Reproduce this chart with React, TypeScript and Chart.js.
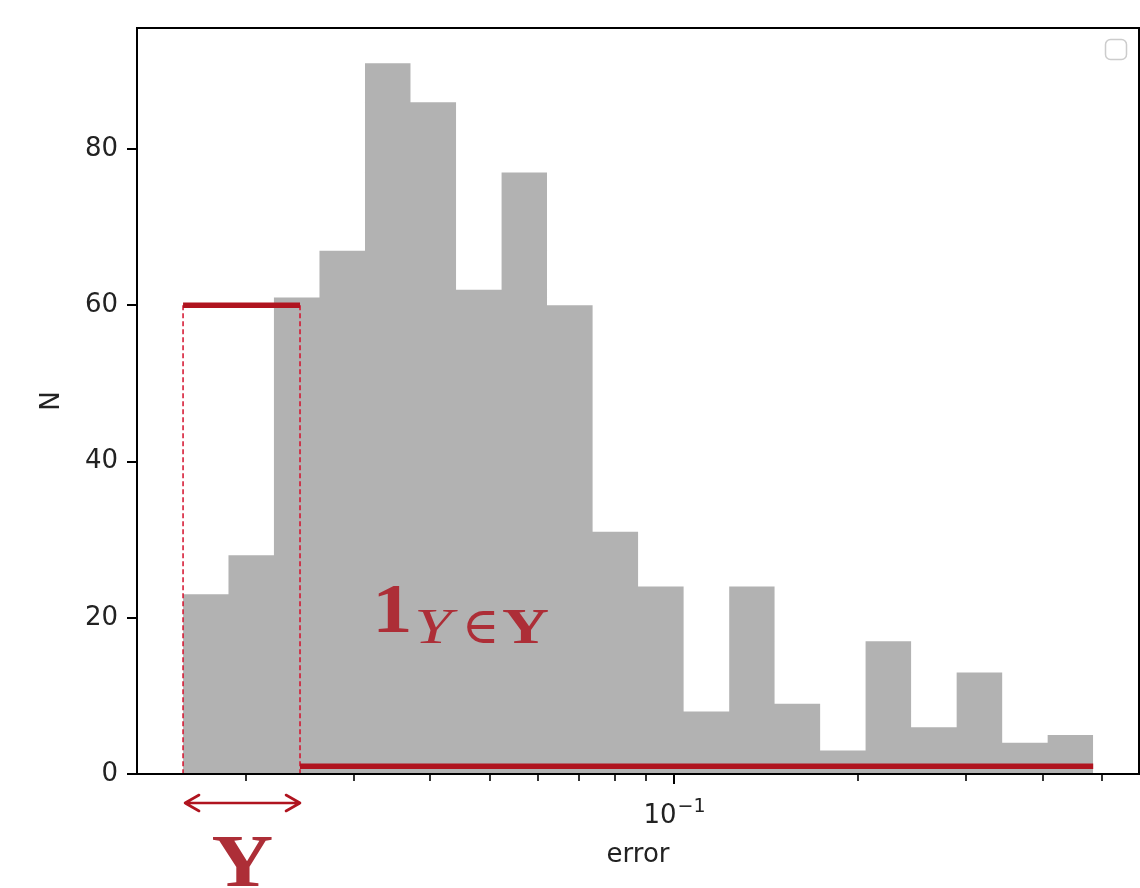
import React, { useEffect, useRef } from 'react';
import { Chart, registerables } from 'chart.js';

Chart.register(...registerables);

// Histogram bin edges (log-spaced) and counts
const binEdges = [
  0.01578, 0.01872, 0.02221, 0.02636, 0.03128, 0.03712, 0.04406, 0.05229, 0.06204, 0.07364,
  0.08738, 0.1037, 0.1231, 0.146, 0.1733, 0.2056, 0.244, 0.2896, 0.3437, 0.4078, 0.484,
];
const counts = [23, 28, 61, 67, 91, 86, 62, 77, 60, 31, 24, 8, 24, 9, 3, 17, 6, 13, 4, 5];

// Axis ticks
const yTicks = [0, 20, 40, 60, 80];
const xMinorTicks = [0.02, 0.03, 0.04, 0.05, 0.06, 0.07, 0.08, 0.09, 0.2, 0.3, 0.4, 0.5];
const xMajorTicks = [0.1];
const xMajorBase = ['10'];
const xMajorExp = ['\u22121'];

// Indicator-function overlay
const setStart = 0.01578;
const setEnd = 0.0245;
const setLevel = 60;
const outsideLevel = 1;

const X_MIN = 0.01327;
const X_MAX = 0.575;
const Y_MAX = 95.5;

const RED = '#b0141f';
const TEXT_RED = '#ad2e37';
const FONT = '"DejaVu Sans", sans-serif';
const SERIF = '"Liberation Serif", "DejaVu Serif", serif';
const FS = 26;

function drawFit(ctx: CanvasRenderingContext2D, text: string, font: string, left: number, baseline: number, width: number) {
  ctx.save();
  ctx.font = font;
  ctx.textAlign = 'left';
  ctx.textBaseline = 'alphabetic';
  const m = ctx.measureText(text);
  const w = m.actualBoundingBoxRight + m.actualBoundingBoxLeft;
  const s = w > 0 ? width / w : 1;
  ctx.translate(left, baseline);
  ctx.scale(s, 1);
  ctx.fillText(text, m.actualBoundingBoxLeft, 0);
  ctx.restore();
}

const overlay = {
  id: 'overlay',
  afterDraw(chart: any) {
    const { ctx, chartArea: ca, scales } = chart;
    const xs = scales.x;
    const ys = scales.y;
    ctx.save();
    // spines
    ctx.strokeStyle = '#000';
    ctx.lineWidth = 2;
    ctx.strokeRect(ca.left, ca.top, ca.right - ca.left, ca.bottom - ca.top);
    // y ticks
    yTicks.forEach((v) => {
      const py = Math.round(ys.getPixelForValue(v));
      ctx.beginPath();
      ctx.moveTo(ca.left - 10, py);
      ctx.lineTo(ca.left, py);
      ctx.stroke();
    });
    // x ticks
    ctx.lineWidth = 1.6;
    xMinorTicks.forEach((v) => {
      const px = Math.round(xs.getPixelForValue(v));
      ctx.beginPath();
      ctx.moveTo(px, ca.bottom);
      ctx.lineTo(px, ca.bottom + 7);
      ctx.stroke();
    });
    ctx.lineWidth = 2;
    xMajorTicks.forEach((v, i) => {
      const px = Math.round(xs.getPixelForValue(v));
      ctx.beginPath();
      ctx.moveTo(px, ca.bottom);
      ctx.lineTo(px, ca.bottom + 10);
      ctx.stroke();
      // label: base with superscript exponent
      ctx.fillStyle = '#222';
      ctx.textBaseline = 'alphabetic';
      ctx.font = `${FS}px ${FONT}`;
      const bw = ctx.measureText(xMajorBase[i]).width;
      ctx.font = `${Math.round(FS * 0.72)}px ${FONT}`;
      const ew = ctx.measureText(xMajorExp[i]).width;
      const left = px - (bw + ew) / 2;
      ctx.textAlign = 'left';
      ctx.font = `${FS}px ${FONT}`;
      ctx.fillText(xMajorBase[i], left, ca.bottom + 49);
      ctx.font = `${Math.round(FS * 0.72)}px ${FONT}`;
      ctx.fillText(xMajorExp[i], left + bw + 1, ca.bottom + 38);
    });

    // double arrow under the set
    const ax0 = xs.getPixelForValue(setStart) + 2;
    const ax1 = xs.getPixelForValue(setEnd);
    const ay = ca.bottom + 29;
    ctx.strokeStyle = RED;
    ctx.lineWidth = 2.6;
    ctx.lineCap = 'round';
    ctx.lineJoin = 'round';
    ctx.beginPath();
    ctx.moveTo(ax0, ay);
    ctx.lineTo(ax1, ay);
    ctx.moveTo(ax0 + 14, ay - 8);
    ctx.lineTo(ax0, ay);
    ctx.lineTo(ax0 + 14, ay + 8);
    ctx.moveTo(ax1 - 14, ay - 8);
    ctx.lineTo(ax1, ay);
    ctx.lineTo(ax1 - 14, ay + 8);
    ctx.stroke();

    // big bold Y under the arrow
    ctx.fillStyle = TEXT_RED;
    const cx = (ax0 + ax1) / 2;
    drawFit(ctx, 'Y', `bold 74px ${SERIF}`, cx - 30, 886, 60);

    // 1_{Y∈Y}
    drawFit(ctx, '1', `bold 70px ${SERIF}`, 378, 632, 31);
    drawFit(ctx, 'Y', `italic 51px ${SERIF}`, 417, 643, 41);
    drawFit(ctx, '\u2208', `51px ${SERIF}`, 467, 643, 28);
    drawFit(ctx, 'Y', `bold 51px ${SERIF}`, 502, 643, 46);

    // empty legend frame
    ctx.strokeStyle = '#cccccc';
    ctx.lineWidth = 1.5;
    ctx.beginPath();
    (ctx as any).roundRect(1105.5, 39.5, 21, 20, 5);
    ctx.stroke();
    ctx.restore();
  },
};

const App = () => {
  const ref = useRef<HTMLCanvasElement>(null);
  useEffect(() => {
    const canvas = ref.current!;
    const histPoints = binEdges.map((e, i) => ({ x: e, y: counts[Math.min(i, counts.length - 1)] }));
    const chart = new Chart(canvas, {
      type: 'line',
      data: {
        datasets: [
          {
            data: [{ x: setStart, y: setLevel }, { x: setEnd, y: setLevel }],
            borderColor: RED,
            borderWidth: 5.5,
            pointRadius: 0,
            fill: false,
            order: 0,
          },
          {
            data: [{ x: setEnd, y: outsideLevel }, { x: binEdges[binEdges.length - 1], y: outsideLevel }],
            borderColor: RED,
            borderWidth: 5.5,
            pointRadius: 0,
            fill: false,
            order: 0,
          },
          {
            data: [{ x: setStart, y: setLevel }, { x: setStart, y: 0 }],
            borderColor: '#d4102c',
            borderWidth: 1.5,
            borderDash: [5, 3],
            pointRadius: 0,
            fill: false,
            order: 1,
          },
          {
            data: [{ x: setEnd, y: setLevel }, { x: setEnd, y: 0 }],
            borderColor: '#d4102c',
            borderWidth: 1.5,
            borderDash: [5, 3],
            pointRadius: 0,
            fill: false,
            order: 1,
          },
          {
            data: histPoints,
            stepped: 'before',
            fill: 'origin',
            backgroundColor: '#b2b2b2',
            borderColor: 'rgba(0,0,0,0)',
            borderWidth: 1,
            pointRadius: 0,
            order: 10,
          },
        ] as any,
      },
      options: {
        responsive: false,
        animation: false,
        devicePixelRatio: 1,
        layout: { padding: { top: 28, right: 1, left: 0, bottom: 0 } },
        plugins: { legend: { display: false }, tooltip: { enabled: false } },
        scales: {
          x: {
            type: 'logarithmic',
            min: X_MIN,
            max: X_MAX,
            afterBuildTicks: (s: any) => {
              s.ticks = xMajorTicks.map((v) => ({ value: v, major: true }));
            },
            afterFit: (s: any) => {
              s.height = 114;
              s.paddingLeft = 0;
              s.paddingRight = 0;
            },
            ticks: {
              display: false,
              autoSkip: false,
              maxRotation: 0,
            },
            grid: { display: false, drawTicks: false },
            border: { display: false },
            title: {
              display: true,
              text: 'error',
              color: '#222',
              font: { family: FONT, size: FS },
              padding: { top: 0, bottom: 17 },
            },
          },
          y: {
            type: 'linear',
            min: 0,
            max: Y_MAX,
            afterBuildTicks: (s: any) => {
              s.ticks = yTicks.map((v) => ({ value: v }));
            },
            afterFit: (s: any) => {
              s.width = 137;
              s.paddingTop = 0;
              s.paddingBottom = 0;
            },
            ticks: {
              padding: 19,
              color: '#222',
              font: { family: FONT, size: FS },
              callback: (v: any) => String(v),
            },
            grid: { display: false, drawTicks: false },
            border: { display: false },
            title: {
              display: true,
              text: 'N',
              color: '#222',
              font: { family: FONT, size: FS },
              padding: { top: 37, bottom: 0 },
            },
          },
        },
      } as any,
      plugins: [overlay],
    });
    return () => chart.destroy();
  }, []);
  return (
    <div style={{ position: 'absolute', left: 0, top: 0, width: 1140, height: 888 }}>
      <canvas ref={ref} width={1140} height={888} style={{ width: 1140, height: 888, display: 'block' }} />
    </div>
  );
};

export default App;
